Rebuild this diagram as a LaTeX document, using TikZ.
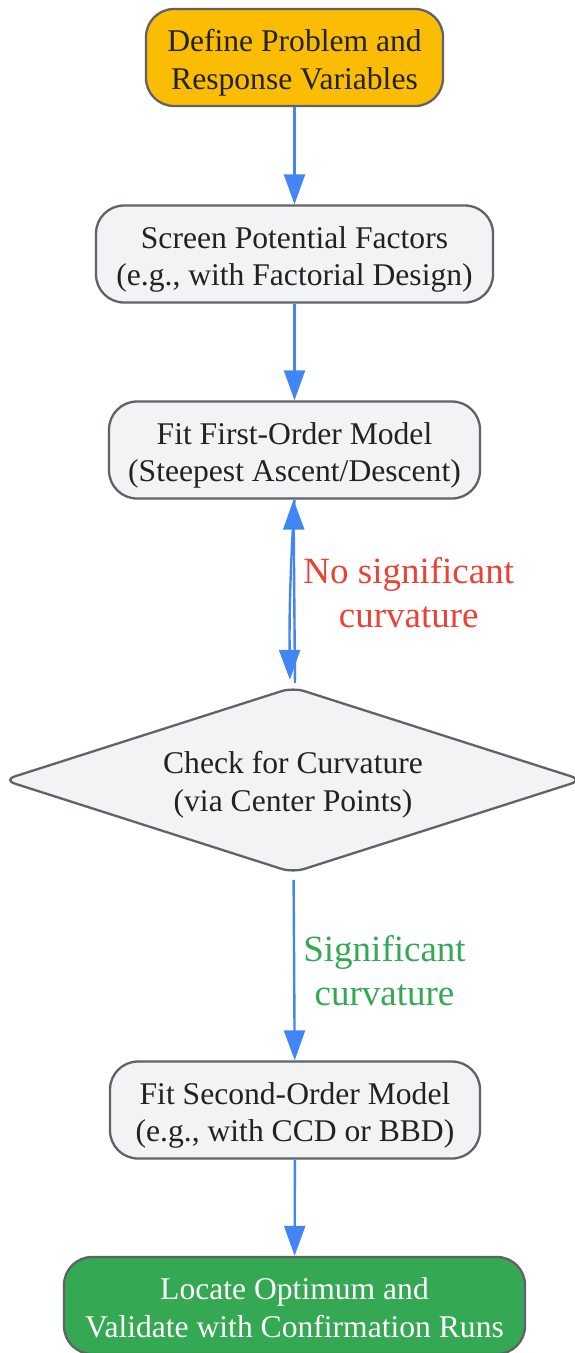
\documentclass[tikz,border=0pt]{standalone}
\usepackage{fontspec}
\setmainfont{Liberation Serif}
\usepackage{tikz}
\usetikzlibrary{arrows.meta,shapes.geometric}
\definecolor{amarillo}{HTML}{FBBC04}
\definecolor{gris}{HTML}{F1F3F4}
\definecolor{borde}{HTML}{5F6368}
\definecolor{verde}{HTML}{34A853}
\definecolor{azul}{HTML}{4285F4}
\definecolor{rojo}{HTML}{EA4335}
\definecolor{texto}{HTML}{222222}
\tikzstyle{flecha}=[color=azul, line width=2.4pt, >={Triangle[length=30pt,width=21pt]}]

\begin{document}
\begin{tikzpicture}[x=1pt,y=1pt,
  caja/.style={rectangle,rounded corners=28pt,draw=borde,line width=2.3pt,fill=gris,text=texto,
    align=center,inner sep=0pt,minimum height=97pt,text height=70pt,text depth=6.4pt,
    font=\fontsize{31.6pt}{37.6pt}\selectfont},
  rombo/.style={diamond,aspect=3.1,rounded corners=12pt,draw=borde,line width=2.3pt,fill=gris,text=texto,
    align=center,inner sep=0pt,text height=70pt,text depth=8pt,
    font=\fontsize{31.6pt}{37.6pt}\selectfont},
  etiq/.style={align=center,inner sep=2pt,font=\fontsize{37pt}{43.5pt}\selectfont}]
        \useasboundingbox (0,0) rectangle (575,-1353);
        \node [caja, fill=amarillo, minimum width=297pt] (def) at (294.5,-57.5) {Define Problem and\\Response Variables};
        \node [caja, minimum width=397pt] (scr) at (294.5,-254) {Screen Potential Factors\\(e.g., with Factorial Design)};
        \node [caja, minimum width=371pt] (fit1) at (294.5,-450) {Fit First-Order Model\\(Steepest Ascent/Descent)};
        \node [rombo, minimum width=580pt, minimum height=186pt] (chk) at (293,-780) {Check for Curvature\\(via Center Points)};
        \node [caja, minimum width=370pt] (fit2) at (295,-1110) {Fit Second-Order Model\\(e.g., with CCD or BBD)};
        \node [caja, fill=verde, text=white, minimum width=461pt] (loc) at (294.5,-1305.5) {Locate Optimum and\\Validate with Confirmation Runs};
        \path[flecha,->]
        (def)  edge                                   (scr)
        (scr)  edge                                   (fit1)
        (fit1.south) edge [bend right=2, shorten >=6pt] ([xshift=-3pt]chk.north)
        ([xshift=2pt]chk.north) edge [shorten <=3pt] node [etiq, right=6pt, text=rojo] {No significant\\curvature} ([xshift=-1pt]fit1.south)
        (chk)  edge [shorten <=6pt] node [etiq, right=6pt, text=verde, pos=0.52] {Significant\\curvature} (fit2)
        (fit2) edge                                   (loc);
\end{tikzpicture}
\end{document}
